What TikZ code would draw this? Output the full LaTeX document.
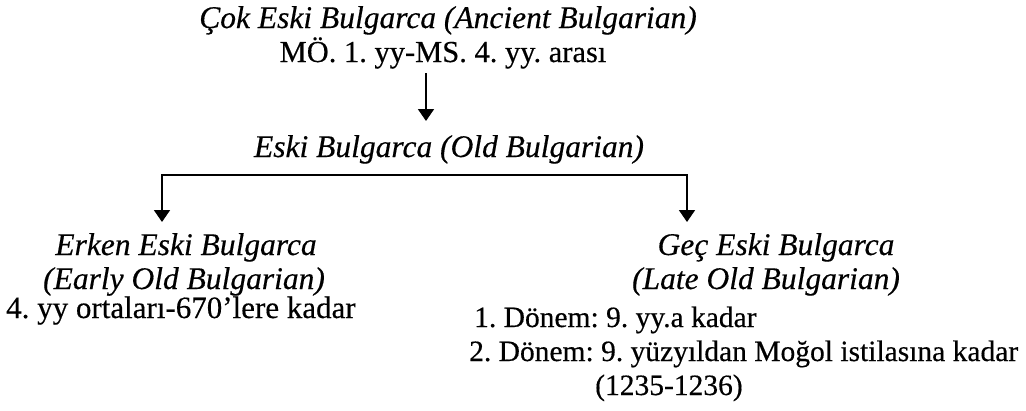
\documentclass[tikz,border=0pt]{standalone}
\usepackage{fontspec}
\setmainfont{Liberation Serif}[FakeBold=0.4]
\usetikzlibrary{arrows.meta}
\begin{document}
\frenchspacing
\begin{tikzpicture}[x=1pt,y=-1pt,
  it/.style={font=\fontsize{31.5}{34}\selectfont\itshape, inner sep=0pt, anchor=base},
  rm/.style={font=\fontsize{29.5}{34}\selectfont, inner sep=0pt, anchor=base},
  arr/.style={line width=1.8pt, -{Triangle[width=16pt,length=12pt]}},
  ln/.style={line width=1.8pt}]
\useasboundingbox (0,0) rectangle (1026,410);
% texts
\node[it] (cok) at (448,28) {Çok Eski Bulgarca (Ancient Bulgarian)};
\node[rm, font=\fontsize{30.5}{34}\selectfont] (mo) at (443,62) {MÖ. 1. yy-MS. 4. yy. arası};
\node[it] (eski) at (449,157) {Eski Bulgarca (Old Bulgarian)};
\node[it] (erken) at (186,255) {Erken Eski Bulgarca};
\node[it] (early) at (184,289) {(Early Old Bulgarian)};
\node[rm, anchor=base west, font=\fontsize{31}{34}\selectfont] (ortalari) at (6,318) {4. yy ortaları-670’lere kadar};
\node[it] (gec) at (776,255) {Geç Eski Bulgarca};
\node[it] (late) at (766,289) {(Late Old Bulgarian)};
\node[rm, anchor=base west] (d1) at (474,327) {1. Dönem: 9. yy.a kadar};
\node[rm, anchor=base west] (d2) at (469,361) {2. Dönem: 9. yüzyıldan Moğol istilasına kadar};
\node[rm, anchor=base west] (yil) at (595,395) {(1235-1236)};
% connectors
\coordinate (s1) at (426,73);
\coordinate (s2) at (426,121);
\coordinate (hl) at (162,175);
\coordinate (hr) at (687,175);
\coordinate (tl) at (162,222);
\coordinate (tr) at (687,222);
\draw[arr] (s1) -- (s2);
\draw[ln, line cap=rect] (hl) -- (hr);
\draw[arr] (hl) -- (tl);
\draw[arr] (hr) -- (tr);
\end{tikzpicture}
\end{document}
